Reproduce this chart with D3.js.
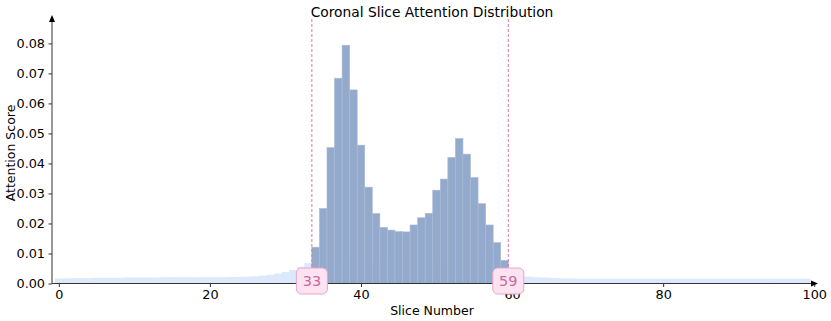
<!DOCTYPE html>
<html>
<head>
<meta charset="utf-8">
<script src="https://cdn.jsdelivr.net/npm/d3@7"></script>
<style>
  body { margin: 0; background: #fff; }
  svg text { font-family: "DejaVu Sans", sans-serif; fill: #000; }
</style>
</head>
<body>
<div id="chart" style="width:831px;height:321px"></div>
<script>
// background (all slices) attention, slices 0..99
const bgValues = [
  0.0017, 0.0017, 0.0018, 0.0018, 0.0018, 0.0019, 0.0019, 0.0019, 0.0019, 0.0020,
  0.0020, 0.0020, 0.0020, 0.0020, 0.0021, 0.0021, 0.0021, 0.0021, 0.0021, 0.0021,
  0.0021, 0.0021, 0.0021, 0.0022, 0.0022, 0.0023, 0.0024, 0.0026, 0.0029, 0.0033,
  0.0038, 0.0045, 0.0056, 0.0068, 0.0070, 0.0070, 0.0070, 0.0070, 0.0070, 0.0070,
  0.0070, 0.0070, 0.0070, 0.0070, 0.0070, 0.0070, 0.0070, 0.0070, 0.0070, 0.0070,
  0.0070, 0.0070, 0.0070, 0.0070, 0.0070, 0.0070, 0.0070, 0.0070, 0.0070, 0.0060,
  0.0029, 0.0026, 0.0023, 0.0021, 0.0020, 0.0019, 0.0018, 0.0017, 0.0017, 0.0016,
  0.0016, 0.0016, 0.0016, 0.0016, 0.0016, 0.0016, 0.0016, 0.0016, 0.0016, 0.0016,
  0.0016, 0.0016, 0.0016, 0.0016, 0.0016, 0.0016, 0.0016, 0.0016, 0.0016, 0.0016,
  0.0016, 0.0016, 0.0016, 0.0016, 0.0016, 0.0016, 0.0016, 0.0016, 0.0016, 0.0016
];

// selected slices
const selSlices = d3.range(34, 60);
const selValues = [
  0.0121, 0.0250, 0.0453, 0.0684, 0.0794, 0.0645, 0.0461, 0.0321, 0.0233, 0.0187,
  0.0178, 0.0173, 0.0172, 0.0195, 0.0219, 0.0234, 0.0311, 0.0348, 0.0420, 0.0483,
  0.0431, 0.0353, 0.0266, 0.0195, 0.0136, 0.0077
];

const rangeStart = 33, rangeEnd = 59;
const xTicks = [0, 20, 40, 60, 80, 100];
const yTicks = [0, 0.01, 0.02, 0.03, 0.04, 0.05, 0.06, 0.07, 0.08];

const svg = d3.select("#chart").append("svg")
    .attr("width", 831).attr("height", 321);

const x = d3.scaleLinear().domain([-0.9, 100.1]).range([52, 815]);
const y = d3.scaleLinear().domain([0, 0.0888]).range([283.5, 17]);
const bw = x(1) - x(0);

// light background bars
svg.append("g")
  .selectAll("rect")
  .data(bgValues)
  .join("rect")
    .attr("x", (d, i) => x(i - 0.5))
    .attr("width", bw + 0.3)
    .attr("y", d => y(d))
    .attr("height", d => y(0) - y(d))
    .attr("fill", "#dce8fb");

// selected bars
svg.append("g")
  .selectAll("rect")
  .data(selValues)
  .join("rect")
    .attr("x", (d, i) => x(selSlices[i] - 0.5))
    .attr("width", bw)
    .attr("y", d => y(d))
    .attr("height", d => y(0) - y(d))
    .attr("fill", "#94aacc")
    .attr("stroke", "#a9bad6")
    .attr("stroke-width", 0.6);

// dashed range lines
svg.append("g")
  .selectAll("line")
  .data([rangeStart + 0.5, rangeEnd + 0.5])
  .join("line")
    .attr("x1", d => x(d)).attr("x2", d => x(d))
    .attr("y1", 19).attr("y2", 270)
    .attr("stroke", "#d9789f")
    .attr("stroke-width", 1)
    .attr("stroke-dasharray", "3,2");

// axes
const xAxis = svg.append("g")
    .attr("transform", `translate(0,${y(0)})`)
    .call(d3.axisBottom(x).tickValues(xTicks).tickSize(3.5).tickPadding(3).tickFormat(d3.format("d")));
const yAxis = svg.append("g")
    .attr("transform", `translate(${x(-0.9)},0)`)
    .call(d3.axisLeft(y).tickValues(yTicks).tickSize(3.5).tickPadding(3.5).tickFormat(d3.format(".2f")));
[xAxis, yAxis].forEach(a => {
  a.select(".domain").remove();
  a.selectAll("text").style("font-size", "12.8px");
  a.selectAll("line").attr("stroke", "#333");
});

// spines with arrows
svg.append("line")
    .attr("x1", 52).attr("x2", 52).attr("y1", y(0)).attr("y2", 20)
    .attr("stroke", "#333").attr("stroke-width", 1);
svg.append("line")
    .attr("x1", 52).attr("x2", 812).attr("y1", y(0)).attr("y2", y(0))
    .attr("stroke", "#333").attr("stroke-width", 1);
svg.append("path")
    .attr("d", `M52,15 L49,22 L55,22 Z`)
    .attr("fill", "#000");
svg.append("path")
    .attr("d", `M818,${y(0)} L811,${y(0) - 3} L811,${y(0) + 3} Z`)
    .attr("fill", "#000");

// range labels
const lab = svg.append("g")
  .selectAll("g")
  .data([rangeStart, rangeEnd])
  .join("g")
    .attr("transform", d => `translate(${x(d + 0.5)},281)`);
lab.append("rect")
    .attr("x", -15.5).attr("y", -13).attr("width", 31).attr("height", 26)
    .attr("rx", 5)
    .attr("fill", "#fde2f1")
    .attr("stroke", "#e6a6c9")
    .attr("stroke-width", 1);
lab.append("text")
    .attr("text-anchor", "middle")
    .attr("dy", "0.36em")
    .style("font-size", "14.5px")
    .style("fill", "#c9699d")
    .text(d => d);

// title and labels
svg.append("text")
    .attr("x", 432).attr("y", 16.5)
    .attr("text-anchor", "middle")
    .style("font-size", "13.8px")
    .text("Coronal Slice Attention Distribution");
svg.append("text")
    .attr("x", 432).attr("y", 315)
    .attr("text-anchor", "middle")
    .style("font-size", "12.5px")
    .text("Slice Number");
svg.append("text")
    .attr("transform", "translate(15,153) rotate(-90)")
    .attr("text-anchor", "middle")
    .style("font-size", "12.5px")
    .text("Attention Score");
</script>
</body>
</html>
